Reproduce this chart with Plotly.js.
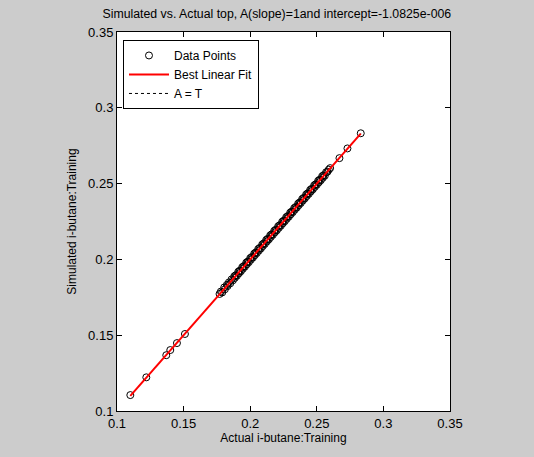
<!DOCTYPE html>
<html><head><meta charset="utf-8">
<script src="https://cdn.plot.ly/plotly-3.0.1.min.js"></script>
<style>html,body{margin:0;padding:0;background:#cccccc;}#chart{width:534px;height:457px;}</style>
</head><body><div id="chart"></div>
<script>
// Actual (target) values
const actual = [0.110,0.122,0.137,0.140,0.145,0.151,
0.177,0.178,0.179,0.1805,0.181,0.1825,0.183,0.184,0.185,0.186,0.187,0.188,0.1885,0.189,0.190,0.191,0.1915,0.192,0.193,0.194,0.1945,0.195,0.196,0.197,0.1975,0.198,0.199,
0.200,0.2005,0.201,0.202,0.203,0.2035,0.204,0.205,0.206,0.2065,0.207,0.208,0.209,0.2095,0.210,0.211,0.212,0.2125,0.213,0.214,0.215,0.2155,0.216,0.217,0.218,0.2185,0.219,0.220,
0.221,0.2215,0.222,0.223,0.224,0.2245,0.225,0.226,0.227,0.2275,0.228,0.229,0.230,0.2305,0.231,0.232,0.233,0.2335,0.234,0.235,0.236,0.2365,0.237,0.238,0.239,0.2395,0.240,
0.241,0.242,0.2425,0.243,0.244,0.245,0.2455,0.246,0.247,0.248,0.2485,0.249,0.250,0.251,0.2515,0.252,0.253,0.254,0.2545,0.255,0.256,0.257,0.258,0.259,0.260,
0.267,0.273,0.283];
// Simulated values
const simulated = [0.1105,0.1222,0.1368,0.1402,0.1448,0.1508,
0.1772,0.1788,0.1782,0.1815,0.1803,0.1832,0.1824,0.1848,0.1842,0.1868,0.1862,0.1888,0.1878,0.1895,0.1892,0.1918,0.1908,0.1925,0.1922,0.1948,0.1938,0.1955,0.1952,0.1978,0.1968,0.1985,0.1982,
0.2008,0.1998,0.2015,0.2012,0.2038,0.2028,0.2045,0.2042,0.2068,0.2058,0.2075,0.2072,0.2098,0.2088,0.2105,0.2102,0.2128,0.2118,0.2135,0.2132,0.2158,0.2148,0.2165,0.2162,0.2188,0.2178,0.2195,0.2192,
0.2218,0.2208,0.2225,0.2222,0.2248,0.2238,0.2255,0.2252,0.2278,0.2268,0.2285,0.2282,0.2308,0.2298,0.2315,0.2312,0.2338,0.2328,0.2345,0.2342,0.2368,0.2358,0.2375,0.2372,0.2398,0.2388,0.2405,
0.2402,0.2428,0.2418,0.2435,0.2432,0.2458,0.2448,0.2465,0.2462,0.2488,0.2478,0.2495,0.2492,0.2518,0.2508,0.2525,0.2522,0.2548,0.2538,0.2555,0.2552,0.2575,0.2578,0.2592,0.2602,
0.2668,0.2732,0.2832];
const slope = 1;
const intercept = -1.0825e-6;
const xTicks = [0.1,0.15,0.2,0.25,0.3,0.35];
const yTicks = [0.1,0.15,0.2,0.25,0.3,0.35];
const xTickText = ['0.1','0.15','0.2','0.25','0.3','0.35'];
const yTickText = ['0.1','0.15','0.2','0.25','0.3','0.35'];

const xmin = Math.min(...actual), xmax = Math.max(...actual);
const fitX = [xmin, xmax];
const fitY = fitX.map(v => slope*v + intercept);

const traces = [
  {x: actual, y: simulated, mode:'markers', type:'scatter', name:'Data Points', legendrank:1,
   marker:{symbol:'circle-open', size:7, color:'#000', line:{width:1, color:'#000'}}},
  {x: fitX, y: fitX, mode:'lines', type:'scatter', name:'A = T', legendrank:3,
   line:{color:'#000', width:1, dash:'dot'}},
  {x: fitX, y: fitY, mode:'lines', type:'scatter', name:'Best Linear Fit', legendrank:2,
   line:{color:'#ff0000', width:2}}
];

const axisCommon = {
  showgrid:false, zeroline:false, showline:true, linecolor:'#000', linewidth:1, mirror:'ticks',
  ticks:'inside', ticklen:5, tickcolor:'#000', tickfont:{family:'Liberation Sans, Arial', size:13, color:'#000'},
  range:[0.1,0.35], tickmode:'array', fixedrange:true
};

const layout = {
  width:534, height:457,
  paper_bgcolor:'#cccccc', plot_bgcolor:'#ffffff',
  margin:{l:117, r:84, t:32, b:46},
  font:{family:'Liberation Sans, Arial', size:12, color:'#000'},
  title:{text:'Simulated vs. Actual top, A(slope)=1and intercept=-1.0825e-006',
    x:0.48, xref:'paper', xanchor:'center', y:0.97, yref:'container', yanchor:'middle',
    font:{family:'Liberation Sans, Arial', size:12.3, color:'#000'}},
  xaxis:Object.assign({}, axisCommon, {tickvals:xTicks, ticktext:xTickText,
    title:{text:'Actual i-butane:Training', standoff:3, font:{size:12, color:'#000'}}}),
  yaxis:Object.assign({}, axisCommon, {tickvals:yTicks, ticktext:yTickText,
    title:{text:'Simulated i-butane:Training', standoff:8, font:{size:12, color:'#000'}}}),
  showlegend:true,
  legend:{x:0.018, y:0.979, xanchor:'left', yanchor:'top', bgcolor:'#ffffff', bordercolor:'#000', borderwidth:1,
    font:{family:'Liberation Sans, Arial', size:12, color:'#000'}, itemwidth:40, tracegroupgap:0}
};

Plotly.newPlot('chart', traces, layout, {displayModeBar:false, staticPlot:true});
</script>
</body></html>
